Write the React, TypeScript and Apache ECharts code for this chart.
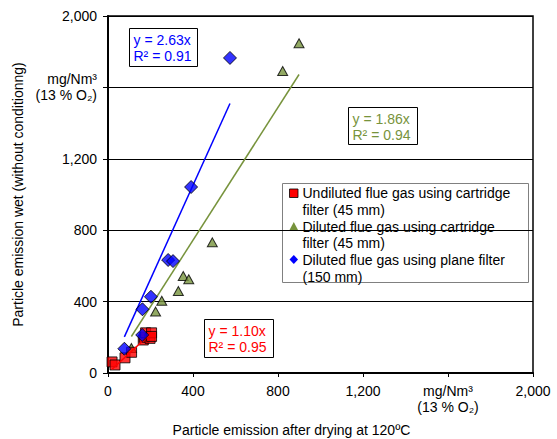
import React, { useEffect, useRef } from "react";
import * as echarts from "echarts";

// ---- Data ----
const undilutedX = [19, 33, 80, 111, 166, 171, 177, 198, 205, 205];
const undilutedY = [62, 45, 85, 116, 185, 200, 225, 194, 225, 205];

const dilutedCartX = [110, 224, 253, 331, 354, 380, 491, 822, 899];
const dilutedCartY = [140, 344, 405, 459, 543, 525, 732, 1692, 1847];

const dilutedPlaneX = [77, 161, 162, 202, 283, 306, 391, 574];
const dilutedPlaneY = [136, 213, 357, 427, 633, 627, 1042, 1765];

const slopeUndiluted = 1.1;
const slopeDilutedCart = 1.86;
const slopeDilutedPlane = 2.63;

const r2Undiluted = "0.95";
const r2DilutedCart = "0.94";
const r2DilutedPlane = "0.91";

const tickValues = [0, 400, 800, 1200, 1600, 2000];
const xTickLabels = ["0", "400", "800", "1,200", "mg/Nm³\n(13 % O₂)", "2,000"];
const yTickLabels = ["0", "400", "800", "1,200", "mg/Nm³\n(13 % O₂)", "2,000"];

const seriesNames = [
  "Undiluted flue gas using cartridge\nfilter (45 mm)",
  "Diluted flue gas using cartridge\nfilter (45 mm)",
  "Diluted flue gas using plane filter\n(150 mm)",
];

const xAxisTitle = "Particle emission after drying at 120ºC";
const yAxisTitle = "Particle emission wet (without conditionng)";

const RED = "#FF0000";
const GREEN = "#77933C";
const BLUE = "#0000FF";
const FONT = "'Liberation Sans', Arial, sans-serif";

function zip(xs: number[], ys: number[]) {
  return xs.map((x, i) => [x, ys[i]]);
}
function trend(xs: number[], k: number) {
  const lo = Math.min(...xs);
  const hi = Math.max(...xs);
  return [
    [lo, lo * k],
    [hi, hi * k],
  ];
}

function eqBox(left: number, top: number, w: number, h: number, color: string, k: number, r2: string) {
  return {
    type: "group",
    left,
    top,
    children: [
      {
        type: "rect",
        shape: { x: 0, y: 0, width: w, height: h },
        style: { fill: "#fff", stroke: "#000", lineWidth: 1 },
      },
      {
        type: "text",
        x: 4,
        y: 3,
        style: {
          text: `y = ${k.toFixed(2)}x\nR² = ${r2}`,
          fill: color,
          font: `14px ${FONT}`,
          lineHeight: 16.5,
          verticalAlign: "top",
        },
      },
    ],
  };
}

export default function App() {
  const ref = useRef<HTMLDivElement>(null);

  useEffect(() => {
    if (!ref.current) return;
    const chart = echarts.init(ref.current, undefined, { renderer: "svg" });

    const labelFmt = (labels: string[]) => (v: number) => {
      const i = tickValues.indexOf(v);
      return i >= 0 ? labels[i] : "";
    };

    const legendTop = 183;
    const legendLeft = 282;
    const lh = 16.7;

    chart.setOption({
      animation: false,
      backgroundColor: "#fff",
      grid: {
        left: 108,
        top: 16,
        width: 425,
        height: 357,
        show: true,
        borderColor: "#000",
        borderWidth: 1.5,
        containLabel: false,
        outerBoundsMode: "none",
      },
      xAxis: {
        type: "value",
        min: 0,
        max: 2000,
        interval: 400,
        name: xAxisTitle,
        nameLocation: "middle",
        nameGap: 50,
        nameTextStyle: { color: "#000", fontSize: 14, fontFamily: FONT, padding: [0, 58, 0, 0] },
        axisLine: { show: true, lineStyle: { color: "#000", width: 2 } },
        axisTick: { show: true, length: 4, lineStyle: { color: "#000" } },
        axisLabel: {
          margin: 10,
          color: "#000",
          fontSize: 14,
          fontFamily: FONT,
          lineHeight: 16,
          formatter: labelFmt(xTickLabels),
        },
        splitLine: { show: false },
      },
      yAxis: {
        type: "value",
        min: 0,
        max: 2000,
        interval: 400,
        name: yAxisTitle,
        nameLocation: "middle",
        nameGap: 76,
        nameRotate: 90,
        nameTextStyle: { color: "#000", fontSize: 14, fontFamily: FONT },
        axisLine: { show: true, lineStyle: { color: "#000", width: 2 } },
        axisTick: { show: true, length: 5, lineStyle: { color: "#000" } },
        axisLabel: {
          margin: 11,
          color: "#000",
          fontSize: 14,
          fontFamily: FONT,
          lineHeight: 16,
          formatter: labelFmt(yTickLabels),
        },
        splitLine: { show: true, lineStyle: { color: "#000", width: 1 } },
      },
      series: [
        {
          name: seriesNames[1] + " trend",
          type: "line",
          data: trend(dilutedCartX, slopeDilutedCart),
          showSymbol: false,
          symbol: "none",
          lineStyle: { color: GREEN, width: 1.5 },
          z: 2,
        },
        {
          name: seriesNames[2] + " trend",
          type: "line",
          data: trend(dilutedPlaneX, slopeDilutedPlane),
          showSymbol: false,
          symbol: "none",
          lineStyle: { color: BLUE, width: 1.5 },
          z: 2,
        },
        {
          name: seriesNames[1],
          type: "scatter",
          data: zip(dilutedCartX, dilutedCartY),
          symbol: "triangle",
          symbolSize: [10, 9],
          itemStyle: { color: GREEN, borderColor: "#000", borderWidth: 1 },
          z: 3,
        },
        {
          name: seriesNames[0],
          type: "scatter",
          data: zip(undilutedX, undilutedY),
          symbol: "rect",
          symbolSize: 10,
          itemStyle: { color: RED, borderColor: "#000", borderWidth: 1 },
          z: 4,
        },
        {
          name: seriesNames[0] + " trend",
          type: "line",
          data: trend(undilutedX, slopeUndiluted),
          showSymbol: false,
          symbol: "none",
          lineStyle: { color: RED, width: 1.5 },
          z: 4.5,
        },
        {
          name: seriesNames[2],
          type: "scatter",
          data: zip(dilutedPlaneX, dilutedPlaneY),
          symbol: "diamond",
          symbolSize: 13,
          itemStyle: { color: BLUE, borderColor: "#000", borderWidth: 1 },
          z: 5,
        },
      ],
      graphic: [
        eqBox(129, 28, 68, 38, BLUE, slopeDilutedPlane, r2DilutedPlane),
        eqBox(348, 107, 69, 37, GREEN, slopeDilutedCart, r2DilutedCart),
        eqBox(204, 319, 69, 38, RED, slopeUndiluted, r2Undiluted),
        {
          type: "group",
          left: legendLeft,
          top: legendTop,
          z: 100,
          children: [
            {
              type: "rect",
              shape: { x: 0, y: 0, width: 246, height: 99 },
              style: { fill: "#fff", stroke: "#808080", lineWidth: 1 },
            },
            {
              type: "rect",
              shape: { x: 7, y: 5.5, width: 8.5, height: 8.5 },
              style: { fill: RED, stroke: "#000", lineWidth: 0.8 },
            },
            {
              type: "polygon",
              shape: { points: [[11.3, 38.5], [15.5, 46.5], [7, 46.5]] },
              style: { fill: GREEN, stroke: "none" },
            },
            {
              type: "polygon",
              shape: { points: [[11.3, 71.5], [15.5, 76], [11.3, 80.5], [7, 76]] },
              style: { fill: BLUE, stroke: "none" },
            },
            ...seriesNames.map((n, i) => ({
              type: "text",
              x: 20,
              y: 1.3 + i * 2 * lh,
              style: {
                text: n,
                fill: "#000",
                font: `14px ${FONT}`,
                lineHeight: lh,
                verticalAlign: "top",
              },
            })),
          ],
        },
      ],
    });

    return () => chart.dispose();
  }, []);

  return (
    <div
      ref={ref}
      style={{ position: "absolute", left: 0, top: 0, width: 557, height: 439, background: "#fff" }}
    />
  );
}
